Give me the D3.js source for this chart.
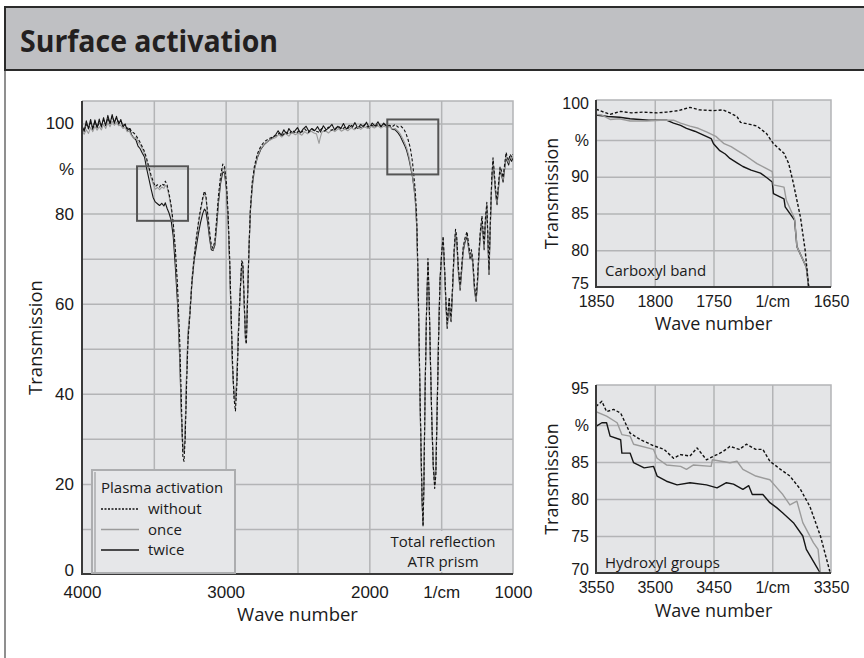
<!DOCTYPE html>
<meta charset="utf-8">
<style>
body { margin: 0; background: #fff; }
svg { font-family: "Open Sans", "Noto Sans", sans-serif; }
.grid line { stroke: #b3b4b6; stroke-width: 1.5; }
.grid path { display: none; }
.lbl path, .lbl line { display: none; }
.lbl text { fill: #1a1a1a; }
</style>
<svg width="864" height="658"></svg>
<script src="https://d3js.org/d3.v7.min.js"></script>
<script>

// ---- data (wave number 1/cm, transmission %) ----
var mainWithout = [[4000,99.2],[3985,98.4],[3970,99.8],[3955,98.9],[3940,100.2],[3925,99.1],[3910,100.4],[3895,99.3],[3880,100.1],[3865,99.6],[3850,100.8],[3835,99.7],[3820,101.2],[3805,100],[3790,101.6],[3775,100.4],[3760,101.2],[3745,100.3],[3730,100.6],[3715,99.6],[3700,99.8],[3685,98.9],[3670,99.1],[3655,98.2],[3640,97.9],[3625,97.4],[3610,96.6],[3595,95.8],[3580,94.8],[3565,93.8],[3550,92.2],[3535,90.4],[3520,88.6],[3505,87.2],[3490,86],[3475,86.4],[3460,85.9],[3445,86.6],[3430,86.3],[3420,87.2],[3408,86.4],[3395,84.6],[3380,82],[3365,78],[3350,72],[3335,64],[3320,52],[3308,38],[3298,26],[3290,25],[3282,30],[3272,42],[3262,52],[3250,57],[3235,65],[3220,70],[3205,74.5],[3190,78],[3175,81],[3160,83.5],[3148,85],[3138,84.2],[3125,80],[3112,76],[3100,73],[3088,72.3],[3075,74],[3062,79],[3050,84],[3035,88.5],[3020,91],[3008,90.5],[2995,87],[2983,80],[2972,70],[2962,58],[2952,47],[2942,39],[2932,36.2],[2922,42],[2912,52],[2900,62],[2888,69.5],[2880,69],[2870,60],[2862,52],[2856,51],[2848,60],[2838,72],[2828,81],[2815,87],[2800,90.5],[2780,93.2],[2755,95],[2730,96],[2700,96.6],[2670,97.1],[2650,97.3],[2625,97.9],[2605,97.4],[2580,98.1],[2560,97.6],[2535,98.5],[2510,97.8],[2490,98.4],[2470,98.1],[2450,98.8],[2425,98],[2400,98.7],[2380,98.4],[2355,98.1],[2330,98.9],[2310,98.3],[2285,99.2],[2265,98.5],[2240,98.8],[2215,99.4],[2190,98.7],[2170,99.2],[2150,98.9],[2125,99.6],[2100,98.9],[2080,99.4],[2055,99.1],[2030,99.8],[2010,99.2],[1985,99.6],[1960,99.3],[1935,99.9],[1915,99.4],[1895,99.8],[1880,99.5],[1860,99.6],[1840,99.3],[1820,99.8],[1800,99.2],[1780,99.4],[1760,98.8],[1745,97.8],[1730,96.4],[1715,94.6],[1700,91.5],[1690,88.5],[1680,85],[1670,79],[1662,68],[1655,55],[1647,40],[1640,28],[1633,17],[1626,10.5],[1620,20],[1612,40],[1602,58],[1592,70],[1584,62],[1575,48],[1565,34],[1555,24],[1545,19],[1537,22],[1528,36],[1518,52],[1508,65],[1495,72],[1486,75],[1476,68],[1466,60],[1458,55.5],[1450,59],[1444,61.5],[1437,58],[1431,57],[1422,63],[1410,72],[1400,76.5],[1392,75],[1380,68],[1368,64],[1358,68],[1347,72.5],[1335,74.5],[1320,76],[1308,73],[1299,71],[1290,72],[1280,70],[1268,64],[1257,61.5],[1248,65],[1240,70],[1228,76],[1216,79.5],[1208,76],[1201,73],[1192,79],[1182,82.5],[1174,74],[1167,67.5],[1158,78],[1148,88],[1139,92.4],[1130,89],[1120,85],[1111,83],[1100,87],[1090,90.4],[1080,89.5],[1069,88],[1058,91],[1048,93.6],[1040,92.5],[1030,91.8],[1020,93.2],[1010,92.6],[1000,93.2]];

var mainOnce = [[4000,98.4],[3985,97.6],[3970,98.6],[3955,97.8],[3940,99.1],[3925,98.2],[3910,99.4],[3895,98.5],[3880,99.3],[3865,98.6],[3850,99.8],[3835,98.9],[3820,100.2],[3805,99.3],[3790,100.5],[3775,99.6],[3760,100.3],[3745,99.5],[3730,99.6],[3715,98.9],[3700,99.1],[3685,98.2],[3670,98.3],[3655,97.3],[3640,96.7],[3625,96.9],[3610,95.9],[3595,95.3],[3580,94.4],[3565,93.2],[3550,91.6],[3535,89.8],[3520,88],[3505,86.6],[3490,85.4],[3475,85.8],[3460,85.3],[3445,85.9],[3430,85.6],[3420,86.3],[3408,85.8],[3395,84],[3380,81.4],[3365,77.4],[3350,71],[3335,62.5],[3320,50],[3308,36],[3298,27],[3290,27.5],[3282,33],[3272,45],[3262,54],[3250,58],[3235,65.5],[3220,70.5],[3205,74],[3190,77.5],[3175,80.5],[3160,83],[3148,84.4],[3138,83.6],[3125,79.5],[3112,75.5],[3100,72.6],[3088,72],[3075,73.6],[3062,78.5],[3050,83.4],[3035,87.8],[3020,90.2],[3008,89.8],[2995,86.2],[2983,79],[2972,69],[2962,57],[2952,46],[2942,39.5],[2932,37.5],[2922,43],[2912,53],[2900,62.5],[2888,69.5],[2880,68.5],[2870,59.5],[2862,52],[2856,51.5],[2848,61],[2838,72.5],[2828,81],[2815,86.5],[2800,90],[2780,92.6],[2755,94.5],[2730,95.5],[2700,96.2],[2670,96.7],[2650,96.9],[2630,97.6],[2610,97],[2585,97.8],[2560,97.2],[2540,98],[2515,97.5],[2495,97.9],[2470,97.4],[2450,98.2],[2430,97.7],[2405,98.3],[2385,97.9],[2368,97.7],[2358,96.5],[2350,95.6],[2342,96.8],[2330,98.1],[2305,98.4],[2285,97.9],[2260,98.6],[2240,98.2],[2215,98.9],[2195,98.3],[2170,98.8],[2150,98.4],[2125,99.1],[2105,98.6],[2080,99.2],[2060,98.7],[2035,99.3],[2010,98.9],[1990,99.4],[1965,99],[1940,99.5],[1920,99],[1900,99.4],[1880,99.2],[1860,99.3],[1840,98.8],[1820,98.9],[1800,98.3],[1785,97.7],[1770,96.8],[1755,95.8],[1740,94.6],[1725,92.8],[1712,90.6],[1700,88.4],[1690,86.2],[1680,83.2],[1670,77.5],[1662,67],[1655,54],[1647,39],[1640,27],[1633,16.5],[1626,11.5],[1620,21],[1612,41],[1602,58.5],[1592,69.5],[1584,61.5],[1575,47],[1565,33.5],[1555,23.5],[1545,19.5],[1537,22.5],[1528,36.5],[1518,52.5],[1508,65],[1495,72.5],[1486,74.5],[1476,67.5],[1466,59.5],[1458,55],[1450,58.5],[1444,61],[1437,57.5],[1431,56.5],[1422,62.5],[1410,71.5],[1400,76],[1392,74.5],[1380,67.5],[1368,63.5],[1358,67.5],[1347,72],[1335,74],[1320,75.5],[1308,72.5],[1299,70.5],[1290,71.5],[1280,69.5],[1268,63.5],[1257,61],[1248,64.5],[1240,69.5],[1228,75.5],[1216,79],[1208,75.5],[1201,72.5],[1192,78.5],[1182,82],[1174,73.5],[1167,67],[1158,77.5],[1148,87.5],[1139,92],[1130,88.5],[1120,84.5],[1111,82.5],[1100,86.5],[1090,90],[1080,89],[1069,87.5],[1058,90.5],[1048,93],[1040,92],[1030,91.3],[1020,92.7],[1010,92.1],[1000,92.8]];

var mainTwice = [[4000,99.6],[3985,98.2],[3970,100.6],[3955,98.8],[3940,100.9],[3925,98.6],[3910,100.8],[3895,99],[3880,101],[3865,99.2],[3850,101.3],[3835,99.5],[3820,101.8],[3805,99.9],[3790,102],[3775,100],[3760,101.6],[3745,99.8],[3730,100.9],[3715,99.2],[3700,99.9],[3685,98.4],[3670,98.9],[3655,97.5],[3640,96.8],[3625,96.4],[3610,95],[3595,94.4],[3580,93.4],[3565,92.6],[3550,90],[3535,87.8],[3520,85.6],[3505,83.6],[3490,82.6],[3475,82.2],[3460,81.8],[3445,82.3],[3430,81.7],[3420,82.4],[3408,81.2],[3395,80.2],[3380,78.6],[3365,75],[3350,68],[3335,60],[3320,48],[3308,35],[3298,28],[3290,27],[3282,31],[3272,44],[3262,53],[3250,57.5],[3235,64.5],[3220,69.5],[3205,72.5],[3190,75.5],[3175,78],[3160,80],[3148,81],[3138,80.6],[3125,78],[3112,74.5],[3100,72],[3088,71.8],[3075,73],[3062,77.5],[3050,82.5],[3035,86.8],[3020,89.3],[3008,89],[2995,85.6],[2983,78.5],[2972,68.5],[2962,56.5],[2952,45.5],[2942,40],[2932,38],[2922,43.5],[2912,53.5],[2900,62],[2888,69],[2880,68],[2870,59],[2862,52.5],[2856,52],[2848,61.5],[2838,72],[2828,80.5],[2815,86],[2800,89.8],[2780,92.4],[2755,94.3],[2730,95.4],[2700,96.2],[2670,96.9],[2650,97.6],[2635,98.4],[2615,97.3],[2595,98.6],[2575,97.6],[2560,98.9],[2540,97.9],[2520,98.3],[2500,99.1],[2480,97.9],[2460,98.8],[2440,99.4],[2420,98.2],[2400,98.9],[2380,98.4],[2360,99.3],[2340,98.1],[2320,99.5],[2300,98.6],[2280,99.1],[2260,99.8],[2240,98.5],[2220,99.4],[2200,98.8],[2180,100],[2160,98.7],[2140,99.6],[2120,99.1],[2100,100.2],[2080,98.9],[2060,99.8],[2040,99.2],[2020,100.3],[2000,99],[1980,100.1],[1960,99.4],[1940,100.4],[1920,99.2],[1900,100.1],[1880,99.4],[1860,99.5],[1840,98.7],[1820,98.6],[1800,97.9],[1785,97.2],[1770,96.2],[1755,95.2],[1740,94],[1725,92.2],[1712,90.2],[1700,88.2],[1690,86],[1680,83],[1670,77],[1662,66.5],[1655,53.5],[1647,38.5],[1640,26.5],[1633,16],[1626,11],[1620,20.5],[1612,40.5],[1602,58],[1592,69],[1584,61],[1575,47.5],[1565,34],[1555,24],[1545,20],[1537,23],[1528,37],[1518,53],[1508,65.5],[1495,72],[1486,74],[1476,67],[1466,59],[1458,54.5],[1450,58],[1444,60.5],[1437,57],[1431,56],[1422,62],[1410,71],[1400,75.5],[1392,74],[1380,67],[1368,63],[1358,67],[1347,71.5],[1335,73.5],[1320,75],[1308,72],[1299,70],[1290,71],[1280,69],[1268,63],[1257,60.5],[1248,64],[1240,69],[1228,75],[1216,78.5],[1208,75],[1201,72],[1192,78],[1182,81.5],[1174,73],[1167,66.5],[1158,77],[1148,87],[1139,91.6],[1130,88],[1120,84],[1111,82],[1100,86],[1090,89.6],[1080,88.6],[1069,87],[1058,90],[1048,92.6],[1040,91.6],[1030,90.8],[1020,92.3],[1010,91.6],[1000,92.4]];

var carbWithout = [[1850,99.2],[1845,98.9],[1838,98.5],[1829,98.9],[1820,98.7],[1810,98.8],[1798,98.7],[1790,98.8],[1780,99],[1770,99.45],[1762,99.1],[1750,99],[1742,99.1],[1736,98.7],[1730,98.2],[1727,97.4],[1718,97.1],[1713,96.9],[1705,95.9],[1699,94.5],[1690,93.2],[1686,91.8],[1682,89.1],[1676,84.5],[1672,80],[1669,75]];
var carbOnce = [[1850,98.5],[1845,98.4],[1838,97.8],[1830,97.9],[1821,97.6],[1807,97.6],[1795,97.7],[1784,97.7],[1778,97.3],[1770,96.9],[1763,96.6],[1756,96.1],[1748,95.5],[1741,94.5],[1735,94.1],[1730,93.6],[1722,92.8],[1713,91.8],[1706,91.2],[1700,90.7],[1699,88.9],[1690,88.6],[1688,86.8],[1681,84.3],[1679,80.5],[1671,77.7],[1669,75]];
var carbTwice = [[1850,98.4],[1840,98.2],[1830,98.1],[1821,97.9],[1805,97.7],[1790,97.7],[1784,97.3],[1778,97],[1773,96.6],[1766,96.2],[1759,95.7],[1752,95.2],[1750,94.5],[1745,93.6],[1740,93.1],[1736,92.5],[1730,91.9],[1725,91.4],[1718,90.9],[1710,90.5],[1704,89.8],[1700,89.3],[1699,87.7],[1690,87],[1689,85.9],[1681,84.1],[1679,80.5],[1671,77.7],[1669,75]];

var hydWithout = [[3550,92.5],[3545,93.2],[3541,91.8],[3535,92.1],[3529,91.6],[3521,88.9],[3512,88],[3501,87.2],[3492,86.7],[3484,85.5],[3478,86],[3470,85.8],[3464,86.9],[3456,85.3],[3447,86],[3442,86.4],[3436,87.1],[3428,86.7],[3422,87.4],[3414,86.7],[3408,86.7],[3402,85.1],[3393,84],[3385,83.1],[3376,81.3],[3368,79],[3359,75],[3351,70.2]];
var hydOnce = [[3550,91.8],[3541,91.2],[3532,90.3],[3528,88.7],[3521,88.5],[3518,87.4],[3501,86.7],[3498,85.5],[3490,84.6],[3478,84.4],[3473,84],[3467,84.6],[3452,84.4],[3451,85.3],[3436,84.9],[3430,85.1],[3425,84],[3414,83.1],[3402,82.6],[3396,81.5],[3391,80.6],[3385,79.2],[3379,79.7],[3374,76.8],[3365,74.1],[3361,73.2],[3359,70]];
var hydTwice = [[3550,89.8],[3545,90.3],[3541,90.3],[3538,88.5],[3529,88],[3528,86.2],[3521,86.2],[3518,84.9],[3509,84.2],[3501,84.4],[3498,83.1],[3490,82.4],[3481,81.9],[3470,82.2],[3456,81.9],[3447,81.5],[3439,82.2],[3433,82],[3425,81.3],[3420,81.8],[3417,80.6],[3408,80.6],[3402,79.5],[3396,78.8],[3391,78.1],[3382,76.8],[3374,75],[3371,73.2],[3361,70.5],[3359,70]];

var seriesNames = ["without", "once", "twice"];
var mainXTicks = [4000, 3000, 2000, 1500, 1000],
    mainYTicks = [0, 20, 40, 60, 80, 90, 100];
var carbXTicks = [1850, 1800, 1750, 1700, 1650],
    carbYTicks = [75, 80, 85, 90, 95, 100];
var hydXTicks = [3550, 3500, 3450, 3400, 3350],
    hydYTicks = [70, 75, 80, 85, 90, 95];
// regions marked in the overview (wave number range, transmission range)
var zoomBoxes = [[3617, 3262, 90.5, 78.4], [1875, 1520, 100.9, 88.7]];

var style = {
  without: {stroke: "#111", dash: "3,2"},
  once: {stroke: "#9b9b9b", dash: null},
  twice: {stroke: "#161616", dash: null}
};

var svg = d3.select("svg");

// frame + header
svg.append("line").attr("x1", 5).attr("x2", 5).attr("y1", 70).attr("y2", 660)
    .attr("stroke", "#6a6a6a").attr("stroke-width", 1.5);
svg.append("rect").attr("x", 5).attr("y", 7).attr("width", 880).attr("height", 63)
    .attr("fill", "#bfc0c3").attr("stroke", "#2b2b2b").attr("stroke-width", 2);
svg.append("text").attr("x", 20).attr("y", 52)
    .attr("font-size", 30).attr("font-weight", "bold").attr("fill", "#231f20")
    .attr("textLength", 258).attr("lengthAdjust", "spacingAndGlyphs")
    .text("Surface activation");

function panel(opt) {
  var x = d3.scaleLinear().domain(opt.xd).range([opt.left, opt.right]),
      y = d3.scaleLinear().domain(opt.yd).range([opt.bottom, opt.top]);
  var g = svg.append("g");

  g.append("rect").attr("x", opt.left).attr("y", opt.top)
      .attr("width", opt.right - opt.left).attr("height", opt.bottom - opt.top)
      .attr("fill", "#e4e5e7");

  g.append("g").attr("class", "grid")
      .attr("transform", "translate(0," + opt.bottom + ")")
      .call(d3.axisBottom(x).tickValues(opt.xGrid).tickSize(-(opt.bottom - opt.top)).tickFormat(""));
  g.append("g").attr("class", "grid")
      .attr("transform", "translate(" + opt.left + ",0)")
      .call(d3.axisLeft(y).tickValues(opt.yGrid).tickSize(-(opt.right - opt.left)).tickFormat(""));

  // top/right border
  g.append("path")
      .attr("d", "M" + opt.left + "," + opt.top + "H" + opt.right + "V" + opt.bottom)
      .attr("fill", "none").attr("stroke", "#b3b4b6").attr("stroke-width", 1.5);

  var clipId = "clip" + opt.name;
  g.append("clipPath").attr("id", clipId).append("rect")
      .attr("x", opt.left).attr("y", opt.top)
      .attr("width", opt.right - opt.left).attr("height", opt.bottom - opt.top + 1);

  var line = d3.line()
      .x(function(d) { return x(d[0]); })
      .y(function(d) { return y(d[1]); });

  // draw twice first, dashed "without" on top
  var lines = g.append("g").attr("clip-path", "url(#" + clipId + ")");
  [2, 1, 0].forEach(function(i) {
    var st = style[seriesNames[i]];
    lines.append("path").datum(opt.series[i])
        .attr("fill", "none")
        .attr("stroke", st.stroke)
        .attr("stroke-width", opt.lw)
        .attr("stroke-dasharray", st.dash)
        .attr("stroke-linejoin", "round")
        .attr("d", line);
  });

  // tick labels
  var xl = g.append("g").attr("class", "lbl")
      .attr("transform", "translate(0," + opt.bottom + ")")
      .call(d3.axisBottom(x).tickValues(opt.xTicks).tickSize(0).tickPadding(opt.xPad)
        .tickFormat(function(d) { return d === opt.unitX ? "1/cm" : d; }));
  xl.selectAll("text").attr("font-size", opt.fs).attr("font-family", null);
  var yl = g.append("g").attr("class", "lbl")
      .attr("transform", "translate(" + opt.left + ",0)")
      .call(d3.axisLeft(y).tickValues(opt.yTicks).tickSize(0).tickPadding(opt.yPad)
        .tickFormat(function(d) { return d === opt.unitY ? "%" : d; }));
  yl.selectAll("text").attr("font-size", opt.fs).attr("font-family", null)
      .attr("dy", function(d) { return d === opt.yd[0] ? "0.1em" : "0.32em"; });

  // axis lines
  g.append("path")
      .attr("d", "M" + opt.left + "," + opt.top + "V" + opt.bottom + "H" + opt.right)
      .attr("fill", "none").attr("stroke", "#3a3a3a").attr("stroke-width", 2);

  g.append("text")
      .attr("transform", "translate(" + opt.yTitleX + "," + (opt.top + opt.bottom) / 2 + ") rotate(-90)")
      .attr("text-anchor", "middle").attr("font-size", opt.tfs).attr("fill", "#1a1a1a")
      .text("Transmission");
  g.append("text")
      .attr("x", (opt.left + opt.right) / 2).attr("y", opt.xTitleY)
      .attr("text-anchor", "middle").attr("font-size", opt.tfs).attr("fill", "#1a1a1a")
      .text("Wave number");

  return {x: x, y: y, g: g};
}

var main = panel({
  name: "main", left: 82, right: 513, top: 101, bottom: 574, lw: 1.1,
  xd: [4000, 1000], yd: [0, 105],
  xGrid: d3.range(3500, 1000, -500), yGrid: d3.range(10, 101, 10),
  xTicks: mainXTicks, yTicks: mainYTicks, unitX: 1500, unitY: 90,
  xPad: 12, yPad: 8, fs: 17, tfs: 18.5, yTitleX: 42, xTitleY: 621,
  series: [mainWithout, mainOnce, mainTwice]
});

var carb = panel({
  name: "carb", left: 596, right: 831, top: 100, bottom: 287, lw: 1.4,
  xd: [1850, 1650], yd: [75, 100.45],
  xGrid: [1800, 1750, 1700], yGrid: [80, 85, 90, 95],
  xTicks: carbXTicks, yTicks: carbYTicks, unitX: 1700, unitY: 95,
  xPad: 9, yPad: 7, fs: 16, tfs: 18, yTitleX: 558, xTitleY: 330,
  series: [carbWithout, carbOnce, carbTwice]
});

var hyd = panel({
  name: "hyd", left: 596, right: 831, top: 385, bottom: 573, lw: 1.4,
  xd: [3550, 3350], yd: [70, 95.4],
  xGrid: [3500, 3450, 3400], yGrid: [75, 80, 85, 90],
  xTicks: hydXTicks, yTicks: hydYTicks, unitX: 3400, unitY: 90,
  xPad: 9, yPad: 7, fs: 16, tfs: 18, yTitleX: 558, xTitleY: 617,
  series: [hydWithout, hydOnce, hydTwice]
});

// marked regions in overview
main.g.selectAll(".zbox").data(zoomBoxes).enter().append("rect")
    .attr("x", function(d) { return main.x(d[0]); })
    .attr("y", function(d) { return main.y(d[2]); })
    .attr("width", function(d) { return main.x(d[1]) - main.x(d[0]); })
    .attr("height", function(d) { return main.y(d[3]) - main.y(d[2]); })
    .attr("fill", "none").attr("stroke", "#555").attr("stroke-width", 2);

// ATR label
main.g.append("rect").attr("x", 388).attr("y", 531).attr("width", 118).attr("height", 41)
    .attr("fill", "#e4e5e7");
var atr = main.g.append("text").attr("text-anchor", "middle").attr("font-size", 15).attr("fill", "#1a1a1a");
atr.append("tspan").attr("x", 443).attr("y", 547).text("Total  reflection");
atr.append("tspan").attr("x", 443).attr("y", 567).text("ATR  prism");

// inset labels
carb.g.append("text").attr("x", 605).attr("y", 276).attr("font-size", 15).attr("fill", "#1a1a1a").text("Carboxyl  band");
hyd.g.append("text").attr("x", 605).attr("y", 568).attr("font-size", 15).attr("fill", "#1a1a1a").text("Hydroxyl  groups");

// legend
var lg = main.g.append("g");
lg.append("rect").attr("x", 92).attr("y", 470).attr("width", 143).attr("height", 103)
    .attr("fill", "#e6e7e9").attr("stroke", "#acadaf").attr("stroke-width", 2);
lg.append("line").attr("x1", 95).attr("x2", 95).attr("y1", 472).attr("y2", 572)
    .attr("stroke", "#b9babc").attr("stroke-width", 2);
lg.append("text").attr("x", 101).attr("y", 493).attr("font-size", 15).attr("fill", "#1a1a1a").text("Plasma  activation");
var rows = lg.selectAll(".row").data(seriesNames).enter().append("g")
    .attr("transform", function(d, i) { return "translate(0," + (509 + i * 20.5) + ")"; });
rows.append("line").attr("x1", 101).attr("x2", 139)
    .attr("stroke", function(d) { return style[d].stroke; })
    .attr("stroke-width", 1.5)
    .attr("stroke-dasharray", function(d) { return d === "without" ? "2,1.5" : null; });
rows.append("text").attr("x", 148).attr("y", 5).attr("font-size", 15).attr("fill", "#1a1a1a")
    .text(function(d) { return d; });

</script>
